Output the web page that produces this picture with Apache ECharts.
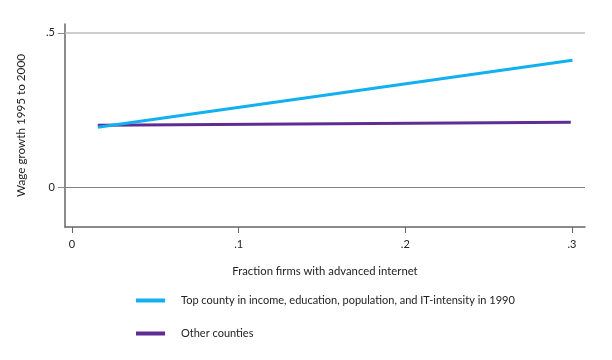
<!DOCTYPE html>
<html>
<head>
<meta charset="utf-8">
<script src="https://cdn.jsdelivr.net/npm/echarts@6/dist/echarts.min.js"></script>
<style>html,body{margin:0;padding:0;background:#fff}#c{width:612px;height:360px}</style>
</head>
<body>
<div id="c"></div>
<script>
const seriesNames = ['Top county in income, education, population, and IT-intensity in 1990', 'Other counties'];
const topCountyX = [0.0155, 0.3003];
const topCountyY = [0.194, 0.411];
const otherX = [0.0155, 0.2993];
const otherY = [0.200, 0.210];
const xTicks = [0, 0.1, 0.2, 0.3];
const yTicks = [0, 0.5];
const fmt = v => v === 0 ? '0' : String(+v.toFixed(2)).replace(/^0\./, '.');

const chart = echarts.init(document.getElementById('c'));
const font = 'Lato, "Open Sans", sans-serif';
chart.setOption({
  animation: false,
  textStyle: { fontFamily: font },
  grid: { left: 65, right: 27, top: 24, bottom: 133 },
  xAxis: {
    type: 'value', min: -0.0042, max: 0.3078,
    name: 'Fraction firms with advanced internet', nameLocation: 'middle', nameGap: 39,
    nameTextStyle: { fontFamily: font, fontSize: 11.3, color: '#222' },
    axisLine: { show: true, onZero: false, lineStyle: { color: '#666', width: 1.5 } },
    axisTick: { show: true, customValues: xTicks, length: 6, lineStyle: { color: '#666' } },
    axisLabel: { customValues: xTicks, formatter: fmt, fontFamily: font, fontSize: 11, color: '#222', margin: 12 },
    splitLine: { show: false }
  },
  yAxis: {
    type: 'value', min: -0.13, max: 0.529,
    name: 'Wage growth 1995 to 2000', nameLocation: 'middle', nameGap: 38, nameRotate: 90,
    nameTextStyle: { fontFamily: font, fontSize: 11.7, color: '#222' },
    axisLine: { show: true, onZero: false, lineStyle: { color: '#666', width: 1.5 } },
    axisTick: { show: true, customValues: yTicks, length: 7, lineStyle: { color: '#888' } },
    axisLabel: { customValues: yTicks, formatter: fmt, fontFamily: font, fontSize: 11, color: '#222', margin: 10 },
    splitLine: { show: false }
  },
  legend: {
    orient: 'vertical', left: 136, top: 295, padding: 0, itemWidth: 29, itemHeight: 4, itemGap: 22,
    icon: 'rect',
    textStyle: { fontFamily: font, fontSize: 11, color: '#222', padding: [0, 0, 0, 11] },
    data: seriesNames
  },
  series: [
    {
      name: seriesNames[1], type: 'line', symbol: 'none', z: 2,
      data: otherX.map((x, i) => [x, otherY[i]]),
      lineStyle: { color: '#5f2d91', width: 3 }, itemStyle: { color: '#5f2d91' },
      markLine: {
        silent: true, symbol: 'none', label: { show: false },
        data: [
          { yAxis: 0.5, lineStyle: { color: '#bdbdbd', width: 1.5, type: 'solid' } },
          { yAxis: 0, lineStyle: { color: '#808080', width: 1, type: 'solid' } }
        ]
      }
    },
    {
      name: seriesNames[0], type: 'line', symbol: 'none', z: 3,
      data: topCountyX.map((x, i) => [x, topCountyY[i]]),
      lineStyle: { color: '#13b0ef', width: 3 }, itemStyle: { color: '#13b0ef' }
    }
  ]
});
</script>
</body>
</html>
